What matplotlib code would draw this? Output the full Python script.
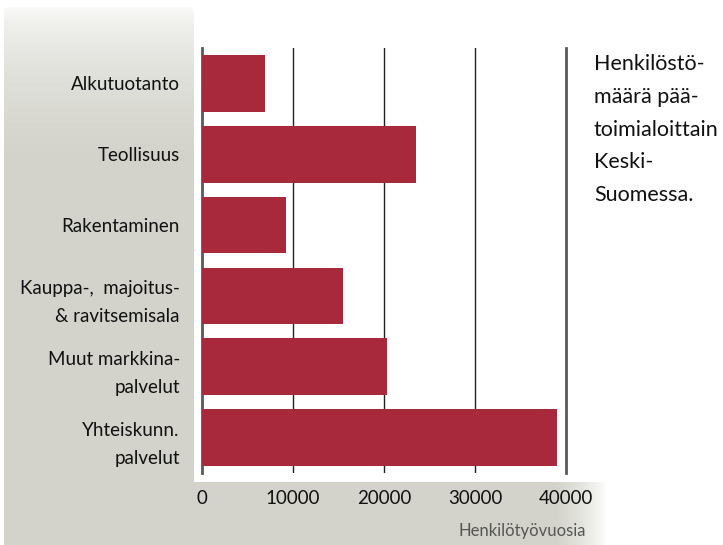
import matplotlib
matplotlib.use("Agg")
import matplotlib.pyplot as plt
import numpy as np

# data
categories = [
    "Alkutuotanto",
    "Teollisuus",
    "Rakentaminen",
    "Kauppa-,  majoitus-\n& ravitsemisala",
    "Muut markkina-\npalvelut",
    "Yhteiskunn.\npalvelut",
]
values = [6900, 23500, 9200, 15500, 20300, 39000]
xticks = [0, 10000, 20000, 30000, 40000]
xlabel = "Henkilötyövuosia"
side_text = "Henkilöstö-\nmäärä pää-\ntoimialoittain\nKeski-\nSuomessa."

W, H = 723, 545
BAR = "#a8293b"
GRAY = np.array([211, 211, 203]) / 255.0

plt.rcParams["font.family"] = ["Lato", "DejaVu Sans"]

fig = plt.figure(figsize=(W / 100, H / 100), dpi=100)

# background: gray panel on the left and bottom band, white plot region
yy = np.arange(H)[:, None]
xx = np.arange(W)[None, :]
top_fade = np.clip((yy - 6) / 150.0, 0, 1) ** 0.5
right_fade = np.clip((605 - xx) / 50.0, 0, 1) ** 0.7
left_panel = (xx >= 4) & (xx < 194) & (yy >= 6)
bottom_band = (yy >= 482) & (xx >= 4) & (xx < 605)
amt = np.zeros((H, W))
amt = np.where(left_panel, np.broadcast_to(top_fade, (H, W)), amt)
amt = np.where(bottom_band, np.maximum(amt, np.broadcast_to(right_fade, (H, W))), amt)
amt = np.where(bottom_band & (xx < 194), 1.0, amt)
bg = 1 - amt[..., None] * (1 - GRAY)
bax = fig.add_axes([0, 0, 1, 1])
bax.imshow(bg, aspect="auto", extent=[0, W, H, 0])
bax.axis("off")

# main axes: x=0 at px 202, 40000 at px 566; y from 48 to 473
ax = fig.add_axes([202 / W, (H - 473) / H, (566 - 202) / W, (473 - 48) / H])
ax.patch.set_alpha(0)
y = np.arange(len(categories))
ax.barh(y, values, height=0.8, color=BAR, zorder=3)
ax.set_xlim(0, 40000)
ax.set_ylim(len(categories) - 0.5, -0.5)

for v in xticks:
    if v in (0, 40000):
        ax.axvline(v, color="#5a5a5a", lw=2.0, zorder=2, clip_on=False)
    else:
        ax.axvline(v, color="#222222", lw=1.0, zorder=2)

for s in ax.spines.values():
    s.set_visible(False)
ax.tick_params(length=0)
ax.set_xticks(xticks)
ax.set_xticklabels([str(v) for v in xticks], fontsize=13.5, color="#111111")
ax.tick_params(axis="x", pad=12)
ax.set_yticks(y)
ax.set_yticklabels(categories, fontsize=13.5, color="#111111", linespacing=1.75)
ax.tick_params(axis="y", pad=16)

fig.text(586 / W, 1 - 531 / H, xlabel, ha="right", va="center",
         fontsize=12, color="#555555")
fig.text(594 / W, 1 - 54 / H, side_text, ha="left", va="top",
         fontsize=15.5, color="#111111", linespacing=1.8)

fig.savefig("out.png", dpi=100)
